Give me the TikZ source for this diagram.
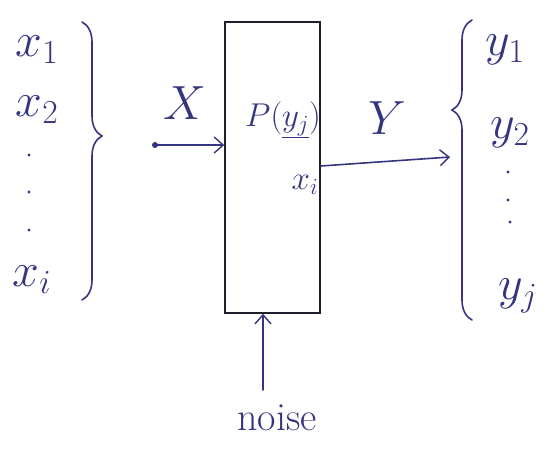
\documentclass[tikz,border=0pt]{standalone}
\usepackage{fix-cm}
\usetikzlibrary{arrows.meta,decorations.pathreplacing}
\definecolor{ink}{RGB}{52,52,128}
\definecolor{pen}{RGB}{30,30,45}
\begin{document}
\begin{tikzpicture}[x=1pt, y=-1pt,
  every node/.style={text=ink, inner sep=0pt, font=\fontsize{48}{52}\selectfont},
  ink line/.style={draw=ink, line width=1.6pt, line cap=round},
  flow/.style={ink line, -{Straight Barb[length=9pt,width=16pt,line width=1.4pt]}},
  curly/.style={ink line, decorate, decoration={brace, amplitude=20pt}},
  smalltext/.style={font=\fontsize{33}{36}\selectfont},
  tick/.style={circle, fill=ink, minimum size=3.4pt}]
  \useasboundingbox (0,0) rectangle (548,450);
  % Channel box
  \node[draw=pen, line width=1.6pt, minimum width=95pt, minimum height=291pt]
    (channel) at (272.5,167.5) {};
  \node[smalltext] (ptext) at (283,120) {$P(\underline{y_j})$};
  \node[smalltext] (pcond) at (305,185) {$x_i$};
  % Input alphabet
  \node (xa) at (37,50) {$x_1$};
  \node (xb) at (37,110) {$x_2$};
  \node[tick] (xd1) at (29,155) {};
  \node[tick] (xd2) at (29,192) {};
  \node[tick] (xd3) at (29,230) {};
  \node (xc) at (32,280) {$x_i$};
  \draw[curly, decoration={aspect=0.41}] (82,22) -- (82,300);
  % Output alphabet
  \node (ya) at (505,50) {$y_1$};
  \node (yb) at (510,133) {$y_2$};
  \node[tick] (yd1) at (508,172) {};
  \node[tick] (yd2) at (508,200) {};
  \node[tick] (yd3) at (510,222) {};
  \node (yc) at (518,296) {$y_j$};
  \draw[curly, decoration={aspect=0.7}] (472,320) -- (472,20);
  % Input arrow
  \coordinate (xin) at (155,145);
  \fill[ink] (xin) circle (3pt);
  \draw[flow] (xin) -- (xin -| channel.west);
  \node (xlab) at (185,103) {$X$};
  % Output arrow
  \coordinate (yfrom) at (channel.east |- 0,166);
  \coordinate (yout) at (450,157);
  \draw[flow] (yfrom) -- (yout);
  \node (ylab) at (387,118) {$Y$};
  % Noise
  \coordinate (nz) at (263,390);
  \draw[flow] (nz) -- (nz |- channel.south);
  \node[font=\fontsize{40}{42}\selectfont] (noise) at (277,418) {noise};
\end{tikzpicture}
\end{document}
